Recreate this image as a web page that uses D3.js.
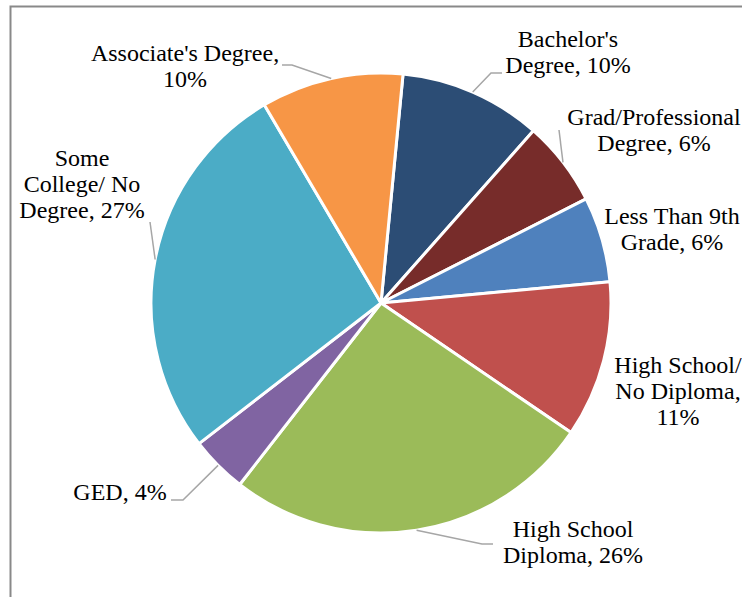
<!DOCTYPE html>
<html>
<head>
<meta charset="utf-8">
<script src="https://cdn.jsdelivr.net/npm/d3@7"></script>
</head>
<body style="margin:0">
<svg id="chart" width="742" height="597" style="font-family: 'Liberation Serif', Tinos, serif;"></svg>
<script>
// Educational attainment shares (percent), clockwise from the top
const categories = [
  "Bachelor's Degree",
  "Grad/Professional Degree",
  "Less Than 9th Grade",
  "High School/ No Diploma",
  "High School Diploma",
  "GED",
  "Some College/ No Degree",
  "Associate's Degree"
];
const values = [10, 6, 6, 11, 26, 4, 27, 10];
const labelLines = [
  ["Bachelor's", "Degree, 10%"],
  ["Grad/Professional", "Degree, 6%"],
  ["Less Than 9th", "Grade, 6%"],
  ["High School/", "No Diploma,", "11%"],
  ["High School", "Diploma, 26%"],
  ["GED, 4%"],
  ["Some", "College/ No", "Degree, 27%"],
  ["Associate's Degree,", "10%"]
];
const colors = ["#2C4D75", "#772C2A", "#4F81BD", "#C0504D", "#9BBB59", "#8064A2", "#4BACC6", "#F79646"];

// Layout
const width = 742, height = 597;
const cx = 381, cy = 303, radius = 230;
const startOffset = 5.5 * Math.PI / 180;
const lineHeight = 26;

// Label placement: text centre x, first baseline y, and leader path (elbow / end points)
const labelLayout = [
  { x: 568, y: 47,  leader: [[491, 73], [502, 73]] },
  { x: 654, y: 125, leader: [[559, 130]] },
  { x: 672, y: 224, leader: null },
  { x: 678, y: 373, leader: null },
  { x: 573, y: 537, leader: [[482, 544], [493, 544]] },
  { x: 120, y: 500, leader: [[183, 500], [171, 500]] },
  { x: 82,  y: 166, leader: [[150, 222]] },
  { x: 185, y: 61,  leader: [[292, 65], [282, 65]] }
];

const svg = d3.select("#chart");

svg.append("rect")
  .attr("width", width).attr("height", height)
  .attr("fill", "#ffffff");

// Chart area frame (runs off the right and bottom of the view)
svg.append("path")
  .attr("d", `M10.5,${height + 5} L10.5,6.5 L${width + 5},6.5`)
  .attr("fill", "none")
  .attr("stroke", "#898989")
  .attr("stroke-width", 2);

const data = categories.map((c, i) => ({ category: c, value: values[i], index: i }));

const pie = d3.pie()
  .value(d => d.value)
  .sort(null)
  .startAngle(startOffset)
  .endAngle(startOffset + 2 * Math.PI);

const arcs = pie(data);
const arc = d3.arc().innerRadius(0).outerRadius(radius);

const g = svg.append("g").attr("transform", `translate(${cx},${cy})`);

g.selectAll("path.slice")
  .data(arcs)
  .join("path")
  .attr("class", "slice")
  .attr("d", arc)
  .attr("fill", d => colors[d.data.index])
  .attr("stroke", "#ffffff")
  .attr("stroke-width", 3)
  .attr("stroke-linejoin", "round");

// Leader lines from the middle of each slice's rim to its label
const leaderGen = d3.line();
arcs.forEach(a => {
  const lay = labelLayout[a.data.index];
  if (!lay.leader) return;
  const mid = (a.startAngle + a.endAngle) / 2;
  const sx = cx + radius * Math.sin(mid);
  const sy = cy - radius * Math.cos(mid);
  svg.append("path")
    .attr("d", leaderGen([[sx, sy], ...lay.leader]))
    .attr("fill", "none")
    .attr("stroke", "#A6A6A6")
    .attr("stroke-width", 1.5);
});

// Data labels: one text element per line, centred on the label anchor
arcs.forEach(a => {
  const i = a.data.index;
  const lay = labelLayout[i];
  labelLines[i].forEach((line, k) => {
    svg.append("text")
      .attr("x", lay.x)
      .attr("y", lay.y + k * lineHeight)
      .attr("font-family", "Liberation Serif")
      .attr("font-size", 24)
      .attr("text-anchor", "middle")
      .text(line);
  });
});
</script>
</body>
</html>
